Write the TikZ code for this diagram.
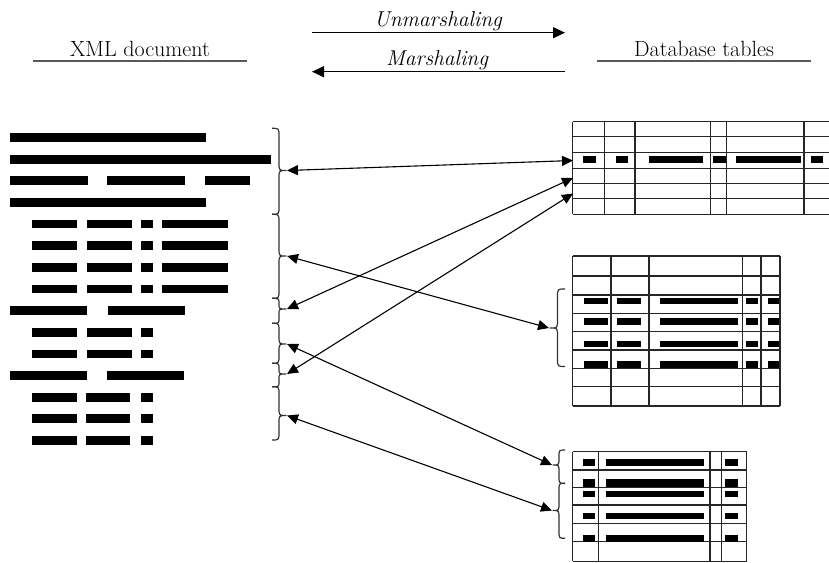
\documentclass[tikz,border=0pt]{standalone}
\usepackage{fontspec}
\usetikzlibrary{arrows.meta}
\tikzset{
  blk/.style={fill=black},
  grid/.style={line width=1.2pt, draw=black!85},
  brc/.style={line width=1.2pt, draw=black!80, line join=round},
  conn/.style={line width=1.1pt, {Triangle[length=11pt,width=10pt]}-{Triangle[length=11pt,width=10pt]}},
  toparrow/.style={line width=1.3pt, -{Triangle[length=12pt,width=11pt]}},
  uline/.style={line width=2pt, draw=black!65},
  lbl/.style={inner sep=0pt, font=\fontsize{22}{26}\selectfont},
  ilbl/.style={inner sep=0pt, font=\fontsize{21.5}{26}\selectfont\itshape},
}
\newcommand{\mybrace}[6]{%
  \pgfmathsetmacro\brcmid{#1+0.5*(#2)}%
  \pgfmathsetmacro\brctip{#1+(#2)}%
  \draw[brc] (#1,#3) .. controls (\brcmid,#3) .. (\brcmid,{#3+#6}) -- (\brcmid,{#4-#6})
    .. controls (\brcmid,#4) .. (\brctip,#4) .. controls (\brcmid,#4) .. (\brcmid,{#4+#6})
    -- (\brcmid,{#5-#6}) .. controls (\brcmid,#5) .. (#1,#5);
}
\begin{document}
\begin{tikzpicture}[x=1pt,y=-1pt]
\useasboundingbox (0,0) rectangle (829,562);

% ---- headings ----
\node[lbl, anchor=base] (xml) at (140,56) {XML document};
\draw[uline] (33,61) -- (247,61);
\node[lbl, anchor=base] (db) at (704,56) {Database tables};
\draw[uline] (597,61) -- (811,61);
\node[ilbl, anchor=base] (un) at (438,26.7) {Unmarshaling};
\node[ilbl, anchor=base] (ma) at (437,65) {Marshaling};
\coordinate (ua) at (312,32.7);
\coordinate (ub) at (565,32.7);
\coordinate (mb) at (565,71.7);
\coordinate (mc) at (312,71.7);
\draw[toparrow] (ua) -- (ub);
\draw[toparrow] (mb) -- (mc);

% ---- XML document bars ----
\foreach \r/\segs in {
  1/{10/206},
  2/{10/271},
  3/{10/88,107/185,205/250},
  4/{10/206},
  5/{32/77,87/132,141/153,162/228},
  6/{32/77,87/132,141/153,162/228},
  7/{32/77,87/132,141/153,162/228},
  8/{32/77,87/132,141/153,162/228},
  9/{10/87,108/185},
  10/{32/77,87/132,141/153},
  11/{32/77,87/132,141/153},
  12/{10/87,107/184},
  13/{32/77,86/130,141/153},
  14/{32/77,86/130,141/153},
  15/{32/77,86/130,141/153}}{
  \pgfmathsetmacro\yc{137.5+21.64*(\r-1)}
  \foreach \a/\b in \segs {
    \fill[blk] (\a,{\yc-4.4}) rectangle (\b,{\yc+4.4});
  }
}

% ---- left braces ----
\mybrace{272}{14}{128.3}{170.5}{214.3}{8}
\mybrace{272}{14}{214.3}{256}{298.3}{8}
\mybrace{272}{14}{298.3}{309}{323.3}{5}
\mybrace{272}{14}{323.3}{344}{363.3}{8}
\mybrace{272}{14}{363.3}{374}{386.7}{5}
\mybrace{272}{14}{386.7}{415.5}{440}{8}

% ---- table 1 ----
\foreach \y in {121.7,136.7,152.3,168.3,183.3,198.3,214.3}
  \draw[grid] (572.7,\y) -- (829,\y);
\foreach \x in {572.7,604.3,635,710.7,726.7,804}
  \draw[grid] (\x,121.7) -- (\x,214.3);
\foreach \a/\b in {583.3/596,616/628.3,649/702.7,713.3/725.7,736/800.7,811/823.3}
  \fill[blk] (\a,156) rectangle (\b,162.7);

% ---- table 2 ----
\foreach \y in {256,276,295,313.3,331.7,350,368.3,386.7,406}
  \draw[grid] (572.7,\y) -- (780,\y);
\foreach \x in {572.7,611,649,742.3,761,780}
  \draw[grid] (\x,256) -- (\x,406);
\foreach \ya/\yb in {297.7/304,318/324.5,340.7/347.3,361/367.7}
  \foreach \a/\b in {584/607.7,617.3/640.7,660/737.7,746/757.7,767.7/779}
    \fill[blk] (\a,\ya) rectangle (\b,\yb);
\mybrace{565}{-15}{289}{328}{366.5}{8}

% ---- table 3 ----
\foreach \y in {451.7,470,487.7,505,523.3,541.7,561.2}
  \draw[grid] (572.7,\y) -- (746.7,\y);
\foreach \x in {572.7,598.3,710,721.7,746.7}
  \draw[grid] (\x,451.7) -- (\x,561.2);
\foreach \ya/\yb in {459/465.7,479.3/486.5,491/497.3,512.7/519,535/541.7}
  \foreach \a/\b in {583.3/595,606/704,725/737.7}
    \fill[blk] (\a,\ya) rectangle (\b,\yb);
\mybrace{565}{-12}{450}{465}{483.3}{7}
\mybrace{565}{-12}{483.3}{510.5}{538.3}{8}

% ---- connector end points ----
\coordinate (L1) at (287,170.5);
\coordinate (L2) at (287,256);
\coordinate (L3) at (287,309);
\coordinate (L4) at (287,344);
\coordinate (L5) at (287,374);
\coordinate (L6) at (287,415.5);
\coordinate (T1) at (573,160.5);
\coordinate (T2) at (573,178);
\coordinate (T3) at (573,193.5);
\coordinate (R2) at (549,328);
\coordinate (R3a) at (552,465);
\coordinate (R3b) at (552,510.5);

\draw[conn] (L1) -- (T1);
\draw[conn] (L2) -- (R2);
\draw[conn] (L3) -- (T2);
\draw[conn] (L4) -- (R3a);
\draw[conn] (L5) -- (T3);
\draw[conn] (L6) -- (R3b);
\end{tikzpicture}
\end{document}
